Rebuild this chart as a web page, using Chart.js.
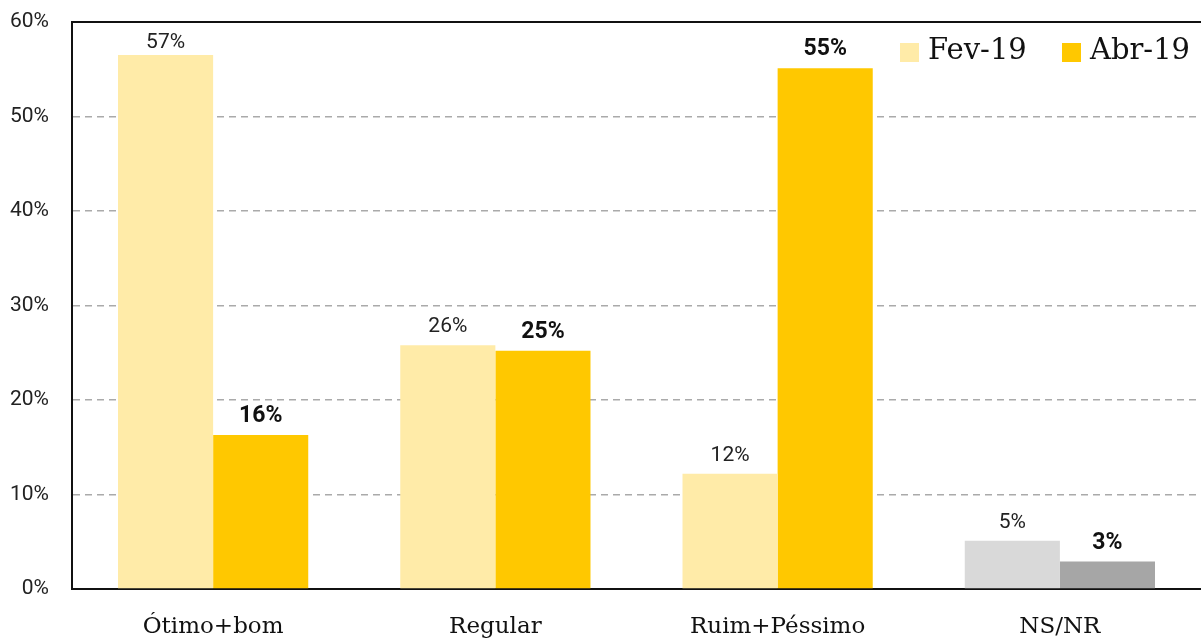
<!DOCTYPE html>
<html>
<head>
<meta charset="utf-8">
<script src="https://cdn.jsdelivr.net/npm/chart.js@4.4.1/dist/chart.umd.min.js"></script>
<style>
  html, body { margin: 0; padding: 0; background: #fff; }
  #wrap { width: 1201px; height: 638px; }
</style>
</head>
<body>
<div id="wrap"><canvas id="barChart" width="1201" height="638"></canvas></div>
<script>
// categories and series
const categories = ['Ótimo+bom', 'Regular', 'Ruim+Péssimo', 'NS/NR'];
const fev19 = [56.5, 25.8, 12.2, 5.1];
const abr19 = [16.3, 25.2, 55.1, 2.9];
const seriesNames = ['Fev-19', 'Abr-19'];
const yTicks = [0, 10, 20, 30, 40, 50, 60];

// colors (last category is grey)
const fevColors = ['#FFEBA8', '#FFEBA8', '#FFEBA8', '#D9D9D9'];
const abrColors = ['#FFC800', '#FFC800', '#FFC800', '#A6A6A6'];

const sansFont = 'Roboto, "Liberation Sans", sans-serif';
const serifFont = '"DejaVu Serif", "Liberation Serif", serif';

// value labels above the bars + frame line on top + custom legend
const extras = {
    id: 'extras',
    afterDatasetsDraw(chart) {
        const ctx = chart.ctx;
        const area = chart.chartArea;
        ctx.save();
        ctx.textAlign = 'center';
        ctx.textBaseline = 'alphabetic';
        chart.data.datasets.forEach((ds, i) => {
            const meta = chart.getDatasetMeta(i);
            ctx.font = i === 0 ? '21px ' + sansFont : 'bold 23px ' + sansFont;
            ctx.fillStyle = i === 0 ? '#222' : '#111';
            meta.data.forEach((bar, j) => {
                const y = Math.max(bar.y - 13, area.top + 26);
                ctx.fillText(Math.round(ds.data[j]) + '%', bar.x, y);
            });
        });

        // top frame line
        ctx.strokeStyle = '#111';
        ctx.lineWidth = 2;
        ctx.beginPath();
        ctx.moveTo(area.left - 1, area.top);
        ctx.lineTo(area.right, area.top);
        ctx.stroke();

        // legend
        ctx.font = '29px ' + serifFont;
        ctx.textAlign = 'left';
        ctx.textBaseline = 'middle';
        const legendX = [900, 1062];
        seriesNames.forEach((name, i) => {
            ctx.fillStyle = i === 0 ? fevColors[0] : abrColors[0];
            ctx.fillRect(legendX[i], 43, 19, 19);
            ctx.fillStyle = '#111';
            ctx.fillText(name, legendX[i] + 28, 51);
        });
        ctx.restore();
    }
};

const ctx = document.getElementById('barChart').getContext('2d');
const barChart = new Chart(ctx, {
    type: 'bar',
    data: {
        labels: categories,
        datasets: [{
            label: seriesNames[0],
            data: fev19,
            backgroundColor: fevColors,
            borderWidth: 0
        }, {
            label: seriesNames[1],
            data: abr19,
            backgroundColor: abrColors,
            borderWidth: 0
        }]
    },
    options: {
        responsive: false,
        animation: false,
        layout: { padding: { top: 22, right: 0, bottom: 0, left: 0 } },
        plugins: {
            legend: { display: false },
            tooltip: { enabled: false }
        },
        datasets: {
            bar: { categoryPercentage: 0.674, barPercentage: 1 }
        },
        scales: {
            x: {
                grid: { display: false, drawTicks: false },
                border: { display: true, color: '#111', width: 2 },
                ticks: {
                    color: '#111',
                    padding: 24,
                    font: { family: serifFont, size: 23 }
                },
                afterFit(scale) { scale.height = 49; }
            },
            y: {
                min: 0,
                max: 60,
                afterBuildTicks(scale) {
                    scale.ticks = yTicks.map(v => ({ value: v }));
                },
                grid: {
                    drawTicks: false,
                    color: c => (c.tick.value === 0 || c.tick.value === 60) ? 'rgba(0,0,0,0)' : '#AAAAAA',
                    lineWidth: 1.5
                },
                // in v4 border.dash is the dash of the grid lines
                border: { display: true, color: '#111', width: 2, dash: [7, 5] },
                ticks: {
                    color: '#222',
                    padding: 23,
                    font: { family: sansFont, size: 21 },
                    callback: v => v + '%'
                },
                afterFit(scale) {
                    scale.width = 72;
                    // tick padding would otherwise push the plot down
                    scale.paddingTop = 0;
                    scale.paddingBottom = 0;
                }
            }
        }
    },
    plugins: [extras]
});
</script>
</body>
</html>
